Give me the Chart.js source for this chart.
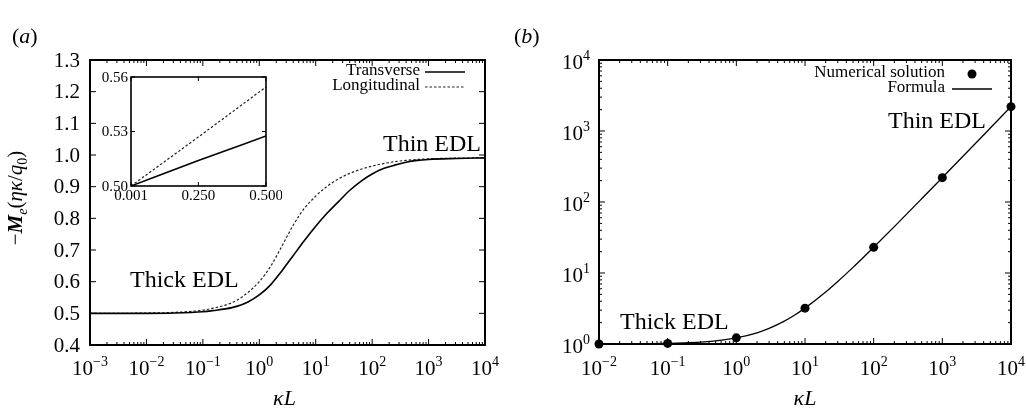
<!DOCTYPE html>
<html>
    <head>
        <title>Mobilité électrophorétique - kappa L</title>
        <meta http-equiv="Content-Type" content="text/html; charset=UTF-8">
        <script src="https://cdn.jsdelivr.net/npm/chart.js"></script>
        <style>
            body { margin: 0; background: #fff; }
            #page { position: relative; width: 1026px; height: 415px; }
            .panel { position: absolute; }
        </style>
    </head>
    <body>
        <div id="page">
            <div class="panel" style="left:0;top:0;width:513px;height:415px;"><canvas id="chartA"></canvas></div>
            <div class="panel" style="left:92px;top:70px;width:190px;height:140px;"><canvas id="chartInset"></canvas></div>
            <div class="panel" style="left:513px;top:0;width:513px;height:415px;"><canvas id="chartB"></canvas></div>
        </div>

        <script>
            const SERIF = '"Liberation Serif", "Times New Roman", serif';

            // (a) -M_e(eta kappa / q0) vs kappa L
            const kappaL = [0.001, 0.00316, 0.01, 0.0316, 0.1, 0.158, 0.251, 0.398, 0.631, 1, 1.585, 2.512, 3.981, 6.31, 10,
                15.85, 25.12, 39.81, 63.1, 100, 158.5, 251.2, 398.1, 631, 1000, 3162, 10000];
            const transverse = [0.500, 0.500, 0.500, 0.501, 0.505, 0.509, 0.514, 0.522, 0.536, 0.558, 0.590, 0.634, 0.682, 0.730, 0.775,
                0.816, 0.852, 0.888, 0.917, 0.940, 0.957, 0.968, 0.977, 0.983, 0.986, 0.989, 0.991];
            const longitudinal = [0.500, 0.500, 0.501, 0.503, 0.510, 0.517, 0.526, 0.541, 0.566, 0.600, 0.648, 0.712, 0.778, 0.832, 0.870,
                0.901, 0.924, 0.942, 0.955, 0.965, 0.973, 0.979, 0.983, 0.986, 0.988, 0.990, 0.991];

            // encart (a)
            const insetKappaL = [0.001, 0.25, 0.5];
            const insetTransverse = [0.500, 0.514, 0.5275];
            const insetLongitudinal = [0.500, 0.527, 0.5545];

            // (b) solution numérique et formule
            const numKappaL = [0.01, 0.1, 1, 10, 100, 1000, 10000];
            const numSolution = [1.0, 1.02, 1.22, 3.2, 23, 220, 2200];
            const formulaKappaL = [0.01, 0.02, 0.05, 0.1, 0.2, 0.5, 1, 2, 3, 5, 7, 10, 20, 30, 50, 70, 100, 200, 500, 1000, 2000, 5000, 10000];
            const formulaValues = [1.002, 1.004, 1.011, 1.022, 1.044, 1.11, 1.22, 1.44, 1.66, 2.1, 2.54, 3.2, 5.4, 7.6, 12, 16.4, 23, 45, 111, 221, 441, 1101, 2201];

            // graduations
            const aXTicks = [0.001, 0.01, 0.1, 1, 10, 100, 1000, 10000];
            const aYTicks = [0.4, 0.5, 0.6, 0.7, 0.8, 0.9, 1.0, 1.1, 1.2, 1.3];
            const insetXTicks = [0.001, 0.25, 0.5];
            const insetXLabels = ['0.001', '0.250', '0.500'];
            const insetYTicks = [0.50, 0.53, 0.56];
            const insetYLabels = ['0.50', '0.53', '0.56'];
            const bXTicks = [0.01, 0.1, 1, 10, 100, 1000, 10000];
            const bYTicks = [1, 10, 100, 1000, 10000];

            const pts = (xs, ys) => xs.map((x, i) => ({x: x, y: ys[i]}));

            function logMinors(decades) {
                const out = [];
                for (let i = 0; i < decades.length - 1; i++) {
                    for (let k = 2; k <= 9; k++) out.push(k * decades[i]);
                }
                return out;
            }

            // cadre + graduations vers l'intérieur sur les 4 côtés
            function drawFrame(chart, o) {
                const ctx = chart.ctx, a = chart.chartArea;
                const sx = chart.scales.x, sy = chart.scales.y;
                ctx.save();
                ctx.strokeStyle = '#000';
                ctx.lineWidth = o.tickWidth;
                ctx.setLineDash([]);
                ctx.beginPath();
                const xt = (v, len) => {
                    const p = sx.getPixelForValue(v);
                    ctx.moveTo(p, a.bottom); ctx.lineTo(p, a.bottom - len);
                    ctx.moveTo(p, a.top); ctx.lineTo(p, a.top + len);
                };
                const yt = (v, len) => {
                    const p = sy.getPixelForValue(v);
                    ctx.moveTo(a.left, p); ctx.lineTo(a.left + len, p);
                    ctx.moveTo(a.right, p); ctx.lineTo(a.right - len, p);
                };
                o.xMajor.forEach(v => xt(v, o.major));
                (o.xMinor || []).forEach(v => xt(v, o.minor));
                o.yMajor.forEach(v => yt(v, o.major));
                (o.yMinor || []).forEach(v => yt(v, o.minor));
                ctx.stroke();
                ctx.lineWidth = o.frameWidth;
                ctx.strokeRect(a.left, a.top, a.right - a.left, a.bottom - a.top);
                ctx.restore();
            }

            // "10" avec exposant
            function drawPow(ctx, exp, x, baseline, size, align) {
                const es = Math.round(size * 0.68);
                const txt = exp < 0 ? '\u2212' + (-exp) : String(exp);
                ctx.font = size + 'px ' + SERIF;
                const w1 = ctx.measureText('10').width;
                ctx.font = es + 'px ' + SERIF;
                const w2 = ctx.measureText(txt).width;
                const start = align === 'right' ? x - w1 - w2 : x - (w1 + w2) / 2;
                ctx.textAlign = 'left';
                ctx.textBaseline = 'alphabetic';
                ctx.font = size + 'px ' + SERIF;
                ctx.fillText('10', start, baseline);
                ctx.font = es + 'px ' + SERIF;
                ctx.fillText(txt, start + w1, baseline - size * 0.45);
            }

            // texte composé (morceaux avec police et décalage vertical)
            function drawParts(ctx, parts, x, baseline, align) {
                let total = 0;
                parts.forEach(p => { ctx.font = p[1]; total += ctx.measureText(p[0]).width; });
                let cx = align === 'center' ? x - total / 2 : x;
                ctx.textAlign = 'left';
                ctx.textBaseline = 'alphabetic';
                parts.forEach(p => {
                    ctx.font = p[1];
                    ctx.fillText(p[0], cx, baseline + (p[2] || 0));
                    cx += ctx.measureText(p[0]).width;
                });
            }

            function legendLine(ctx, ds, x1, x2, y) {
                ctx.save();
                ctx.strokeStyle = ds.borderColor;
                ctx.lineWidth = ds.borderWidth;
                ctx.setLineDash(ds.borderDash || []);
                ctx.beginPath();
                ctx.moveTo(x1, y);
                ctx.lineTo(x2, y);
                ctx.stroke();
                ctx.restore();
            }

            const plugA = {
                id: 'axesA',
                afterDraw(chart) {
                    drawFrame(chart, {
                        xMajor: aXTicks, xMinor: logMinors(aXTicks), yMajor: aYTicks,
                        major: 6, minor: 3, tickWidth: 1, frameWidth: 2
                    });
                    const ctx = chart.ctx, a = chart.chartArea;
                    const sx = chart.scales.x, sy = chart.scales.y;
                    ctx.save();
                    ctx.fillStyle = '#000';
                    aXTicks.forEach(v => drawPow(ctx, Math.round(Math.log10(v)), sx.getPixelForValue(v), a.bottom + 30, 21, 'center'));
                    ctx.font = '21px ' + SERIF;
                    ctx.textAlign = 'right';
                    ctx.textBaseline = 'middle';
                    aYTicks.forEach(v => ctx.fillText(v.toFixed(1), a.left - 10, sy.getPixelForValue(v) + 1));

                    // titre axe x
                    ctx.font = 'italic 22px ' + SERIF;
                    ctx.textAlign = 'center';
                    ctx.textBaseline = 'alphabetic';
                    ctx.fillText('\u03BAL', (a.left + a.right) / 2 - 3, 405);

                    // titre axe y (tourné)
                    ctx.save();
                    ctx.translate(22, 198);
                    ctx.rotate(-Math.PI / 2);
                    drawParts(ctx, [
                        ['\u2212', '21px ' + SERIF],
                        ['M', 'italic bold 21px ' + SERIF],
                        ['e', 'italic 14px ' + SERIF, 5],
                        ['(', '21px ' + SERIF],
                        ['\u03B7\u03BA', 'italic 21px ' + SERIF],
                        ['/', '21px ' + SERIF],
                        ['q', 'italic 21px ' + SERIF],
                        ['0', '14px ' + SERIF, 5],
                        [')', '21px ' + SERIF]
                    ], 0, 0, 'center');
                    ctx.restore();

                    // (a)
                    drawParts(ctx, [['(', '22px ' + SERIF], ['a', 'italic 22px ' + SERIF], [')', '22px ' + SERIF]], 12, 43, 'left');

                    // annotations
                    ctx.font = '24px ' + SERIF;
                    ctx.textAlign = 'left';
                    ctx.fillText('Thin EDL', 383, 151);
                    ctx.fillText('Thick EDL', 130, 287);

                    // légende
                    const ds = chart.data.datasets;
                    ctx.font = '17px ' + SERIF;
                    ctx.textAlign = 'right';
                    ctx.textBaseline = 'middle';
                    ctx.fillText(ds[0].label, 420, 71);
                    ctx.fillText(ds[1].label, 420, 86);
                    ctx.restore();
                    legendLine(ctx, ds[0], 425, 465, 72);
                    legendLine(ctx, ds[1], 425, 465, 87);
                }
            };

            const plugInset = {
                id: 'axesInset',
                afterDraw(chart) {
                    drawFrame(chart, {
                        xMajor: insetXTicks, yMajor: insetYTicks,
                        major: 4, minor: 2, tickWidth: 1, frameWidth: 1.6
                    });
                    const ctx = chart.ctx, a = chart.chartArea;
                    const sx = chart.scales.x, sy = chart.scales.y;
                    ctx.save();
                    ctx.fillStyle = '#000';
                    ctx.font = '15px ' + SERIF;
                    ctx.textAlign = 'right';
                    ctx.textBaseline = 'middle';
                    insetYTicks.forEach((v, i) => ctx.fillText(insetYLabels[i], a.left - 3, sy.getPixelForValue(v) + 1));
                    ctx.textAlign = 'center';
                    ctx.textBaseline = 'alphabetic';
                    insetXTicks.forEach((v, i) => ctx.fillText(insetXLabels[i], sx.getPixelForValue(v), a.bottom + 14));
                    ctx.restore();
                }
            };

            const plugB = {
                id: 'axesB',
                afterDraw(chart) {
                    drawFrame(chart, {
                        xMajor: bXTicks, xMinor: logMinors(bXTicks), yMajor: bYTicks, yMinor: logMinors(bYTicks),
                        major: 6, minor: 3, tickWidth: 1, frameWidth: 2
                    });
                    const ctx = chart.ctx, a = chart.chartArea;
                    const sx = chart.scales.x, sy = chart.scales.y;
                    ctx.save();
                    ctx.fillStyle = '#000';
                    bXTicks.forEach(v => drawPow(ctx, Math.round(Math.log10(v)), sx.getPixelForValue(v), a.bottom + 31, 21, 'center'));
                    bYTicks.forEach(v => drawPow(ctx, Math.round(Math.log10(v)), a.left - 9, sy.getPixelForValue(v) + 9, 21, 'right'));

                    ctx.font = 'italic 22px ' + SERIF;
                    ctx.textAlign = 'center';
                    ctx.textBaseline = 'alphabetic';
                    ctx.fillText('\u03BAL', (a.left + a.right) / 2, 405);

                    drawParts(ctx, [['(', '22px ' + SERIF], ['b', 'italic 22px ' + SERIF], [')', '22px ' + SERIF]], 1, 43, 'left');

                    ctx.font = '24px ' + SERIF;
                    ctx.textAlign = 'left';
                    ctx.fillText('Thin EDL', 375, 128);
                    ctx.fillText('Thick EDL', 107, 329);

                    const ds = chart.data.datasets;
                    ctx.font = '17px ' + SERIF;
                    ctx.textAlign = 'right';
                    ctx.textBaseline = 'middle';
                    ctx.fillText(ds[0].label, 432, 73);
                    ctx.fillText(ds[1].label, 432, 88);
                    ctx.beginPath();
                    ctx.arc(459, 74, ds[0].pointRadius, 0, Math.PI * 2);
                    ctx.fill();
                    ctx.restore();
                    legendLine(ctx, ds[1], 439, 479, 89);
                }
            };

            const hiddenAxis = (extra) => Object.assign({
                ticks: { display: false },
                grid: { display: false },
                border: { display: false }
            }, extra);

            new Chart(document.getElementById('chartA'), {
                type: 'line',
                data: {
                    datasets: [
                        { label: 'Transverse', data: pts(kappaL, transverse), borderColor: '#000', borderWidth: 1.6, pointRadius: 0, cubicInterpolationMode: 'monotone' },
                        { label: 'Longitudinal', data: pts(kappaL, longitudinal), borderColor: '#222', borderWidth: 1.2, borderDash: [2.5, 2], pointRadius: 0, cubicInterpolationMode: 'monotone' }
                    ]
                },
                options: {
                    responsive: true, maintainAspectRatio: false, animation: false,
                    layout: { padding: { left: 0, top: 60, right: 28, bottom: 0 } },
                    plugins: { legend: { display: false }, tooltip: { enabled: false } },
                    scales: {
                        x: hiddenAxis({ type: 'logarithmic', min: 0.001, max: 10000, afterFit: s => { s.height = 70; } }),
                        y: hiddenAxis({ type: 'linear', min: 0.4, max: 1.3, afterFit: s => { s.width = 90; } })
                    }
                },
                plugins: [plugA]
            });

            new Chart(document.getElementById('chartInset'), {
                type: 'line',
                data: {
                    datasets: [
                        { label: 'Transverse', data: pts(insetKappaL, insetTransverse), borderColor: '#000', borderWidth: 1.5, pointRadius: 0, cubicInterpolationMode: 'monotone' },
                        { label: 'Longitudinal', data: pts(insetKappaL, insetLongitudinal), borderColor: '#222', borderWidth: 1.2, borderDash: [2.5, 2], pointRadius: 0, cubicInterpolationMode: 'monotone' }
                    ]
                },
                options: {
                    responsive: true, maintainAspectRatio: false, animation: false,
                    layout: { padding: { left: 0, top: 7, right: 16, bottom: 0 } },
                    plugins: { legend: { display: false }, tooltip: { enabled: false } },
                    scales: {
                        x: hiddenAxis({ type: 'linear', min: 0.001, max: 0.5, afterFit: s => { s.height = 24; } }),
                        y: hiddenAxis({ type: 'linear', min: 0.5, max: 0.56, afterFit: s => { s.width = 39; } })
                    }
                },
                plugins: [plugInset]
            });

            new Chart(document.getElementById('chartB'), {
                type: 'line',
                data: {
                    datasets: [
                        { label: 'Numerical solution', data: pts(numKappaL, numSolution), showLine: false, pointRadius: 4.5, pointBackgroundColor: '#000', pointBorderWidth: 0, clip: false },
                        { label: 'Formula', data: pts(formulaKappaL, formulaValues), borderColor: '#000', borderWidth: 1.3, pointRadius: 0, cubicInterpolationMode: 'monotone' }
                    ]
                },
                options: {
                    responsive: true, maintainAspectRatio: false, animation: false,
                    layout: { padding: { left: 0, top: 60, right: 15, bottom: 0 } },
                    plugins: { legend: { display: false }, tooltip: { enabled: false } },
                    scales: {
                        x: hiddenAxis({ type: 'logarithmic', min: 0.01, max: 10000, afterFit: s => { s.height = 71; } }),
                        y: hiddenAxis({ type: 'logarithmic', min: 1, max: 10000, afterFit: s => { s.width = 86; } })
                    }
                },
                plugins: [plugB]
            });
        </script>
    </body>
</html>
